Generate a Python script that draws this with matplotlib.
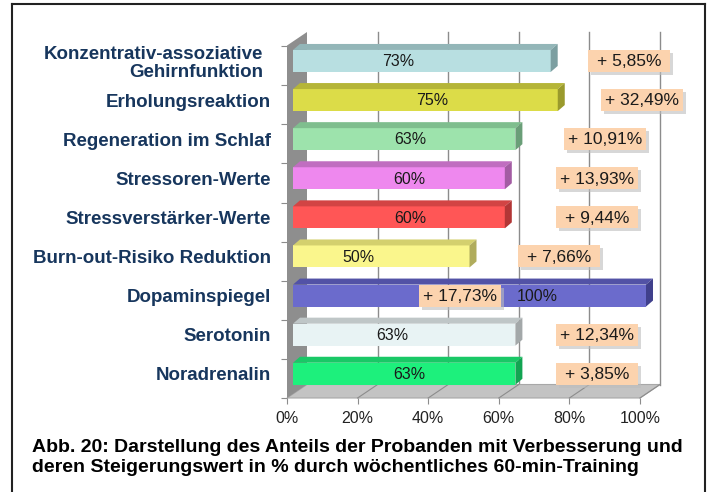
import matplotlib
matplotlib.use("Agg")
import matplotlib.pyplot as plt
from matplotlib.patches import Polygon, Rectangle
from matplotlib.lines import Line2D
from matplotlib.transforms import ScaledTranslation

plt.rcParams['font.family'] = ['Liberation Sans', 'DejaVu Sans']

# data
categories = ["Konzentrativ-assoziative\nGehirnfunktion", "Erholungsreaktion",
              "Regeneration im Schlaf", "Stressoren-Werte", "Stressverstärker-Werte",
              "Burn-out-Risiko Reduktion", "Dopaminspiegel", "Serotonin", "Noradrenalin"]
anteil = [73, 75, 63, 60, 60, 50, 100, 63, 63]          # % Probanden mit Verbesserung
steigerung = [5.85, 32.49, 10.91, 13.93, 9.44, 7.66, 17.73, 12.34, 3.85]  # Steigerungswert in %
ticks = [0, 20, 40, 60, 80, 100]
caption = ["Abb. 20: Darstellung des Anteils der Probanden mit Verbesserung und",
           "deren Steigerungswert in % durch wöchentliches 60-min-Training"]

# layout (label placement, in axis units)
label_x = [0.314, 0.411, 0.348, 0.346, 0.348, 0.201, 0.708, 0.297, 0.346]
box_x = [0.969, 1.006, 0.901, 0.878, 0.878, 0.771, 0.490, 0.878, 0.878]

# front / top / side colours per bar
front = ['#B8DFE1', '#DCDC48', '#9DE3AC', '#EE88EE', '#FF5656',
         '#FAF68C', '#6B6BCC', '#E8F3F4', '#1DF07C']
top = ['#93B6B8', '#B5B538', '#7FBE8E', '#C06EC0', '#D24444',
       '#D4D06E', '#5252A6', '#BFC6C7', '#19C866']
side = ['#7C9FA1', '#9A9A2C', '#6A9E78', '#A35CA3', '#B23636',
        '#B0AC5C', '#40408C', '#A3A8A9', '#12A452']

W, H = 707, 492
fig = plt.figure(figsize=(W / 100, H / 100), dpi=100)

# axes: front plane 0% at x=287px, 100% at x=640px; rows 39.1px apart
y_bot, y_top = 8.62, -0.74
ax = fig.add_axes([287 / W, 1 - 398 / H, 353 / W, (y_bot - y_top) * 39.1 / H])
ax.set_xlim(0, 1)
ax.set_ylim(y_bot, y_top)
for s in ax.spines.values():
    s.set_visible(False)

px = 1 / 353.0       # one pixel in x units
py = 1 / 39.1        # one pixel in y units
Dx, Dy = 20 * px, 13.5 * py   # depth of the walls
grid_c = '#8C8C8C'

# back wall gridlines
for t in ticks[1:]:
    ax.add_line(Line2D([t / 100 + Dx] * 2, [y_bot - Dy, y_top], color=grid_c, lw=1.0,
                       zorder=1, clip_on=False))

# floor
ax.add_patch(Polygon([(0, y_bot), (1, y_bot), (1 + Dx, y_bot - Dy), (Dx, y_bot - Dy)],
                     closed=True, fc='#C3C3C3', ec='#A8A8A8', lw=0.8, zorder=1.5, clip_on=False))
for t in ticks[1:]:
    ax.add_line(Line2D([t / 100, t / 100 + Dx], [y_bot, y_bot - Dy], color=grid_c, lw=0.8,
                       zorder=1.6, clip_on=False))

# left wall
ax.add_patch(Polygon([(0, y_bot), (Dx, y_bot - Dy), (Dx, y_top), (0, y_top + Dy)],
                     closed=True, fc='#8E8E8E', ec='none', zorder=2, clip_on=False))

# bars
h = 22 * py
x0 = 6 * px
bdx, bdy = 7 * px, 6 * py
for i, v in enumerate(anteil):
    w = v / 100
    bars = ax.barh(i, w, left=x0, height=h, color=front[i], zorder=3)
    for b in bars:
        b.set_clip_on(False)
    yt, yb = i - h / 2, i + h / 2
    ax.add_patch(Polygon([(x0, yt), (x0 + w, yt), (x0 + w + bdx, yt - bdy), (x0 + bdx, yt - bdy)],
                         closed=True, fc=top[i], ec='none', zorder=3, clip_on=False))
    ax.add_patch(Polygon([(x0 + w, yt), (x0 + w + bdx, yt - bdy), (x0 + w + bdx, yb - bdy), (x0 + w, yb)],
                         closed=True, fc=side[i], ec='none', zorder=3, clip_on=False))
    ax.text(label_x[i], i + 0.02, f"{v}%", ha='center', va='center', fontsize=11.5,
            color='#1A1A1A', zorder=4)

# increase boxes
bw, bh = 82 * px, 22 * py
for i, s in enumerate(steigerung):
    cx = box_x[i]
    ax.add_patch(Rectangle((cx - bw / 2 + 3 * px, i - bh / 2 + 3 * py), bw, bh, fc='#BDBDBD',
                           ec='none', alpha=0.6, zorder=5, clip_on=False))
    ax.add_patch(Rectangle((cx - bw / 2, i - bh / 2), bw, bh, fc='#FCD3AE', ec='none',
                           zorder=5.1, clip_on=False))
    ax.text(cx, i + 0.02, "+ " + f"{s:.2f}".replace('.', ',') + "%", ha='center', va='center',
            fontsize=12.5, color='#1A1A1A', zorder=5.2, clip_on=False)

# x axis ticks
ax.set_xticks([t / 100 for t in ticks])
ax.set_xticklabels([f"{t}%" for t in ticks])
ax.tick_params(axis='x', direction='out', length=4, width=0.8, color=grid_c,
               labelsize=11.5, labelcolor='#222222', pad=5.5)

# y axis: boundary ticks (major) and category labels (minor)
ax.set_yticks([k - 0.38 for k in range(10)])
ax.set_yticklabels([])
ax.set_yticks(list(range(len(categories))), minor=True)
ax.set_yticklabels(categories, minor=True, fontsize=13.5, fontweight='bold', color='#17365D')
ax.tick_params(axis='y', which='major', direction='out', length=4, width=0.8, color=grid_c)
ax.tick_params(axis='y', which='minor', length=0, pad=11.5)
first = ax.get_yticklabels(minor=True)[0]
first.set_multialignment('right')
first.set_linespacing(1.05)
first.set_transform(first.get_transform() + ScaledTranslation(-8 / 100, 0, fig.dpi_scale_trans))

# caption
fig.text(32 / W, 1 - 447 / H, caption[0], ha='left', va='center', fontsize=14, fontweight='bold')
fig.text(32 / W, 1 - 468 / H, caption[1], ha='left', va='center', fontsize=14, fontweight='bold')

# frame
fr = dict(color='#222222', lw=1.5, transform=fig.transFigure)
fig.add_artist(Line2D([12 / W, 12 / W], [0, 1 - 4 / H], **fr))
fig.add_artist(Line2D([12 / W, 705 / W], [1 - 4 / H, 1 - 4 / H], **fr))
fig.add_artist(Line2D([705 / W, 705 / W], [1 - 4 / H, 0], **fr))

fig.savefig("out.png", dpi=100)
